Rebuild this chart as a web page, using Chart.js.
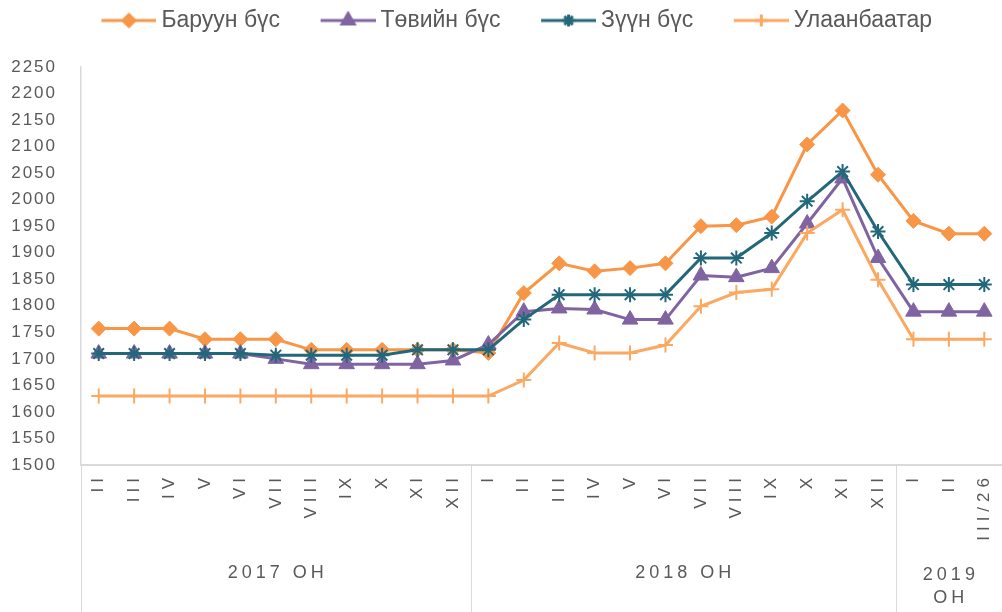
<!DOCTYPE html>
<html>
<head>
<meta charset="utf-8">
<script src="https://cdn.jsdelivr.net/npm/chart.js@4"></script>
<style>
  html, body { margin: 0; padding: 0; background: #fff; }
  canvas { display: block; }
</style>
</head>
<body>
<canvas id="myChart" width="1002" height="612"></canvas>
<script>
// months (2017 II .. 2019 III/26)
const months = ['II', 'III', 'IV', 'V', 'VI', 'VII', 'VIII', 'IX', 'X', 'XI', 'XII',
  'I', 'II', 'III', 'IV', 'V', 'VI', 'VII', 'VIII', 'IX', 'X', 'XI', 'XII',
  'I', 'II', 'III/26'];
const yearLabels = [['2017 ОН'], ['2018 ОН'], ['2019', 'ОН']];
const yearSpans = [11, 12, 3];

const seriesNames = ['Баруун бүс', 'Төвийн бүс', 'Зүүн бүс', 'Улаанбаатар'];
const baruun = [1757, 1757, 1757, 1737, 1737, 1737, 1717, 1717, 1717, 1717, 1717,
  1711, 1824, 1880, 1865, 1871, 1880, 1950, 1952, 1968, 2104, 2168, 2047,
  1960, 1936, 1936];
const tuv = [1710, 1710, 1710, 1710, 1710, 1700, 1690, 1690, 1690, 1690, 1697,
  1727, 1789, 1795, 1793, 1774, 1774, 1857, 1854, 1871, 1955, 2040, 1890,
  1789, 1789, 1789];
const zuun = [1710, 1710, 1710, 1710, 1710, 1707, 1707, 1707, 1707, 1717, 1717,
  1717, 1774, 1821, 1821, 1821, 1821, 1890, 1890, 1937, 1997, 2053, 1940,
  1840, 1840, 1840];
const ulaanbaatar = [1630, 1630, 1630, 1630, 1630, 1630, 1630, 1630, 1630, 1630, 1630,
  1630, 1660, 1730, 1711, 1711, 1726, 1799, 1825, 1831, 1937, 1981, 1849,
  1737, 1737, 1737];

const colors = ['#F79646', '#8064A2', '#23687A', '#FAA862'];
const styles = ['rectRot', 'triangle', 'star', 'cross'];
const FONT = '"Liberation Sans", Arial, sans-serif';
const TEXT = '#595959';
const GRID = '#d9d9d9';

Chart.defaults.font.family = FONT;

// legend icon: line with the marker in the middle (like Excel)
const ICON_BOX = 80;
function legendIcon(i) {
  const c = document.createElement('canvas');
  c.width = ICON_BOX + 13;
  c.height = 20;
  const g = c.getContext('2d');
  const x0 = c.width - 55;
  g.strokeStyle = colors[i];
  g.fillStyle = colors[i];
  g.lineWidth = 3;
  g.beginPath();
  g.moveTo(x0, 10);
  g.lineTo(c.width, 10);
  g.stroke();
  const r = [6, 7, 6, 6][i];
  Chart.helpers.drawPoint(g, { pointStyle: styles[i], radius: r, borderWidth: 2, rotation: 0 }, c.width - 27.5, 10);
  return c;
}
const icons = seriesNames.map((n, i) => legendIcon(i));

const layoutFix = {
  id: 'layoutFix',
  beforeLayout(chart) {
    const lg = chart.legend;
    if (lg && !lg._patched) {
      const fit = lg.fit;
      lg.fit = function () { fit.call(this); this.height += 25; };
      lg._patched = true;
    }
  },
  beforeDraw(chart) {
    [['x', '5px'], ['y', '2px']].forEach(([id, sp]) => {
      const s = chart.scales[id];
      if (s && !s._spaced) {
        const orig = s.drawLabels;
        s.drawLabels = function (a) {
          this.ctx.save();
          this.ctx.letterSpacing = sp;
          orig.call(this, a);
          this.ctx.restore();
        };
        s._spaced = true;
      }
    });
  }
};

const yearGroups = {
  id: 'yearGroups',
  afterDraw(chart) {
    const { ctx } = chart;
    const x = chart.scales.x;
    const top = x.top;
    const edges = [x.left];
    let idx = 0;
    yearSpans.forEach(n => {
      idx += n;
      edges.push(idx < months.length ? (x.getPixelForValue(idx - 1) + x.getPixelForValue(idx)) / 2 : x.right);
    });
    ctx.save();
    ctx.strokeStyle = GRID;
    ctx.lineWidth = 1;
    edges.forEach(e => {
      const px = Math.round(e) + 0.5;
      ctx.beginPath();
      ctx.moveTo(px, top);
      ctx.lineTo(px, chart.height);
      ctx.stroke();
    });
    ctx.fillStyle = TEXT;
    ctx.font = '18px ' + FONT;
    ctx.letterSpacing = '4px';
    ctx.textAlign = 'center';
    ctx.textBaseline = 'middle';
    yearLabels.forEach((lines, i) => {
      const cx = (edges[i] + edges[i + 1]) / 2 + 2;
      lines.forEach((t, j) => {
        const y = lines.length > 1 ? top + 110 + j * 23 : top + 108;
        ctx.fillText(t, cx, y);
      });
    });
    ctx.restore();
  }
};

function series(i, data, order, radius, pbw) {
  return {
    label: seriesNames[i],
    data: data,
    borderColor: colors[i],
    backgroundColor: colors[i],
    borderWidth: 3,
    pointStyle: styles[i],
    pointRadius: radius,
    pointHoverRadius: radius,
    pointBorderWidth: pbw,
    order: order,
    tension: 0,
    fill: false
  };
}

const ctx = document.getElementById('myChart').getContext('2d');

new Chart(ctx, {
  type: 'line',
  data: {
    labels: months,
    datasets: [
      series(0, baruun, 4, 7.5, 1),
      series(1, tuv, 3, 9, 1),
      series(2, zuun, 2, 7.5, 2),
      series(3, ulaanbaatar, 1, 7.5, 2)
    ]
  },
  options: {
    responsive: false,
    animation: false,
    layout: { padding: 0, autoPadding: false },
    plugins: {
      tooltip: { enabled: false },
      legend: {
        position: 'top',
        labels: {
          usePointStyle: true,
          pointStyleWidth: ICON_BOX,
          padding: 9,
          color: TEXT,
          font: { size: 23 },
          generateLabels: () => seriesNames.map((n, i) => ({
            text: n,
            pointStyle: icons[i],
            fontColor: TEXT,
            fillStyle: 'transparent',
            strokeStyle: 'transparent',
            lineWidth: 0,
            hidden: false,
            datasetIndex: i
          }))
        }
      }
    },
    scales: {
      x: {
        offset: true,
        grid: { display: false, drawTicks: false },
        border: { color: GRID, width: 2 },
        ticks: {
          autoSkip: false,
          minRotation: 90,
          maxRotation: 90,
          padding: 8,
          color: TEXT,
          font: { size: 17 }
        },
        afterFit(s) { s.height = 147; s.paddingLeft = 0; s.paddingRight = 0; }
      },
      y: {
        min: 1500,
        max: 2250,
        grid: { display: false, drawTicks: false },
        border: { color: GRID, width: 1.5 },
        ticks: {
          stepSize: 50,
          padding: 24,
          color: TEXT,
          font: { size: 17 },
          callback: v => String(v)
        },
        afterFit(s) { s.width = 81; s.paddingTop = 0; s.paddingBottom = 0; }
      }
    }
  },
  plugins: [layoutFix, yearGroups]
});
</script>
</body>
</html>
